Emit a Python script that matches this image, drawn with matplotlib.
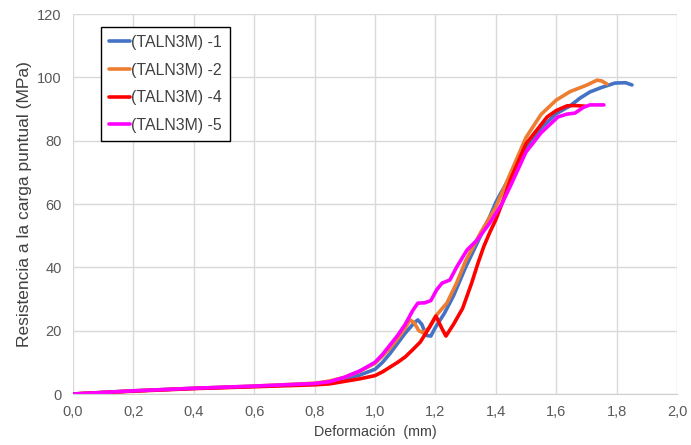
import matplotlib
matplotlib.use("Agg")
from matplotlib import pyplot as plt
from matplotlib.ticker import FuncFormatter, MultipleLocator

plt.rcParams['font.family'] = ['Liberation Sans', 'DejaVu Sans']

# deformation (mm) vs point load strength (MPa) for each specimen
x1 = [0, 0.2, 0.4, 0.6, 0.8, 0.85, 0.9, 0.95, 1.0, 1.025, 1.05, 1.075, 1.1, 1.13, 1.142, 1.155,
      1.17, 1.185, 1.2, 1.23, 1.26, 1.3, 1.35, 1.38, 1.4, 1.42, 1.45, 1.5, 1.55, 1.6, 1.646,
      1.68, 1.712, 1.75, 1.795, 1.83, 1.851]
y1 = [0, 1.0, 1.8, 2.4, 3.2, 3.7, 4.7, 6.0, 7.8, 10, 12.8, 16, 19.2, 22.5, 23.4, 22,
      18.5, 18.3, 21, 25.5, 31, 40, 50, 56, 60.5, 64, 69, 77.7, 84, 88.5, 91,
      93.5, 95.4, 96.8, 98.2, 98.3, 97.6]

x2 = [0, 0.2, 0.4, 0.6, 0.8, 0.85, 0.9, 0.95, 1.0, 1.025, 1.05, 1.075, 1.1, 1.116, 1.13,
      1.145, 1.16, 1.18, 1.2, 1.238, 1.27, 1.3, 1.35, 1.4, 1.45, 1.5, 1.55, 1.6, 1.646,
      1.7, 1.722, 1.735, 1.75, 1.768]
y2 = [0, 1.0, 1.8, 2.5, 3.4, 4.1, 5.3, 7.2, 9.7, 12, 14.5, 17.5, 20.8, 23.4, 22.5,
      20, 19.3, 21, 24.5, 28.7, 35, 42, 51, 59, 70, 81, 88.3, 92.8, 95.5,
      97.5, 98.5, 99.1, 98.9, 97.9]

x4 = [0, 0.2, 0.4, 0.6, 0.8, 0.85, 0.9, 0.95, 1.0, 1.025, 1.05, 1.075, 1.1, 1.125, 1.15,
      1.18, 1.202, 1.22, 1.235, 1.26, 1.29, 1.32, 1.34, 1.36, 1.38, 1.4, 1.42, 1.45, 1.5,
      1.57, 1.6, 1.636, 1.66, 1.695]
y4 = [0, 0.9, 1.7, 2.3, 2.9, 3.2, 4.0, 4.8, 5.8, 7, 8.5, 10, 11.7, 14, 16.4,
      21, 24.6, 21, 18.3, 22, 27, 35, 41, 46.5, 51, 55, 60, 68, 79,
      87.5, 89.5, 91, 91.1, 90.9]

x5 = [0, 0.2, 0.4, 0.6, 0.8, 0.85, 0.9, 0.95, 1.0, 1.025, 1.05, 1.075, 1.1, 1.126, 1.142,
      1.165, 1.185, 1.205, 1.222, 1.248, 1.27, 1.305, 1.338, 1.38, 1.42, 1.45, 1.5, 1.55,
      1.606, 1.636, 1.662, 1.69, 1.712, 1.758]
y5 = [0, 1.0, 1.8, 2.5, 3.3, 3.9, 5.3, 7.3, 10.0, 12.5, 15.5, 18.5, 22, 26.5, 28.7,
      28.8, 29.5, 33, 35, 36, 40, 45.5, 48.6, 54, 60, 66, 76.4, 82.5,
      87.5, 88.4, 88.7, 90.5, 91.3, 91.3]

series = [
    (x1, y1, '(TALN3M) -1', '#4472c4'),
    (x2, y2, '(TALN3M) -2', '#ed7d31'),
    (x4, y4, '(TALN3M) -4', '#ff0000'),
    (x5, y5, '(TALN3M) -5', '#ff00ff'),
]

fig = plt.figure(figsize=(6.91, 4.45), dpi=100)
ax = fig.add_axes([0.1056, 0.1146, 0.8741, 0.8539])

for xs, ys, name, col in series:
    ax.plot(xs, ys, color=col, lw=2.6, label=name, solid_joinstyle='round', solid_capstyle='round')

ax.set_xlim(0, 2.0)
ax.set_ylim(0, 120)
ax.xaxis.set_major_locator(MultipleLocator(0.2))
ax.yaxis.set_major_locator(MultipleLocator(20))
ax.xaxis.set_major_formatter(FuncFormatter(lambda v, p: f"{v:.1f}".replace('.', ',')))
ax.grid(True, color='#d9d9d9', lw=1)
ax.set_axisbelow(True)
for s in ['top', 'right', 'left']:
    ax.spines[s].set_visible(False)
ax.spines['bottom'].set_color('#d0d0d0')
ax.tick_params(length=0, labelsize=10.5, colors='#595959', pad=8)

ax.set_xlabel('Deformación  (mm)', fontsize=10.3, color='#404040', labelpad=4)
ax.set_ylabel('Resistencia a la carga puntual (MPa)', fontsize=12.5, color='#404040', labelpad=4)

leg = ax.legend(loc='upper left', bbox_to_anchor=(0.046, 0.966), borderaxespad=0,
                fancybox=False, edgecolor='black', framealpha=1, fontsize=11.4,
                handlelength=1.35, handletextpad=0.05, labelspacing=0.8,
                borderpad=0.5)
leg.get_frame().set_linewidth(1.0)
for t in leg.get_texts():
    t.set_color('#404040')

fig.savefig('out.png', dpi=100)
